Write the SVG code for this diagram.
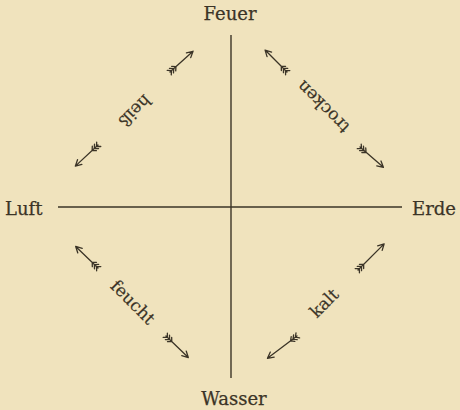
<svg xmlns="http://www.w3.org/2000/svg" xmlns:xlink="http://www.w3.org/1999/xlink" width="460" height="410" viewBox="0 0 460 410">
<style>
.node{font-family:"DejaVu Serif","Liberation Serif",serif;font-size:18px;fill:#3b3427;stroke:#3b3427;stroke-width:0.25}
.lbl{font-family:"DejaVu Serif","Liberation Serif",serif;font-size:17px;fill:#3b3427;text-anchor:middle;stroke:#3b3427;stroke-width:0.2}
.ln{stroke:#3b3427;stroke-width:1.4;fill:none}
.ar{stroke:#3b3427;stroke-width:1.3;fill:none;stroke-linecap:round}
</style>
<defs>
<path id="arr" class="ar" d="M0,0 L31,0 M31,0 L25,-3.2 M31,0 L25,3.2 M2,0 L-1,-3 M2,0 L-1,3 M5,0 L2,-3 M5,0 L2,3 M8,0 L5,-3 M8,0 L5,3"/>
<path id="arrL" class="ar" d="M0,0 L37,0 M37,0 L31,-3.2 M37,0 L31,3.2 M2,0 L-1,-3 M2,0 L-1,3 M5,0 L2,-3 M5,0 L2,3 M8,0 L5,-3 M8,0 L5,3"/>
</defs>
<rect width="460" height="410" fill="#f0e3bd"/>
<g id="connectors">
<line class="ln" x1="231" y1="35" x2="231" y2="378"/>
<line class="ln" x1="58" y1="207" x2="402" y2="207"/>
<g id="heiss">
<use xlink:href="#arr" transform="translate(170,72) rotate(-42)"/>
<use xlink:href="#arr" transform="translate(98,145) rotate(137)"/>
<text class="lbl" transform="translate(135,111) rotate(135)" dy="0.35em">heiß</text>
</g>
<g id="trocken">
<use xlink:href="#arr" transform="translate(287,72) rotate(-135)"/>
<use xlink:href="#arr" transform="translate(360,147) rotate(41)"/>
<text class="lbl" transform="translate(323,107) rotate(-135)" dy="0.35em">trocken</text>
</g>
<g id="feucht">
<use xlink:href="#arr" transform="translate(98,268) rotate(-136)"/>
<use xlink:href="#arr" transform="translate(166,336) rotate(44)"/>
<text class="lbl" transform="translate(133,302) rotate(45)" dy="0.35em">feucht</text>
</g>
<g id="kalt">
<use xlink:href="#arrL" transform="translate(358,270) rotate(-45)"/>
<use xlink:href="#arrL" transform="translate(297,336) rotate(143)"/>
<text class="lbl" transform="translate(324,303) rotate(-45)" dy="0.35em">kalt</text>
</g>
</g>
<g id="Feuer"><text class="node" x="230" y="20" text-anchor="middle">Feuer</text></g>
<g id="Wasser"><text class="node" x="234" y="405" text-anchor="middle">Wasser</text></g>
<g id="Luft"><text class="node" x="5" y="215">Luft</text></g>
<g id="Erde"><text class="node" x="456" y="215" text-anchor="end">Erde</text></g>
</svg>
